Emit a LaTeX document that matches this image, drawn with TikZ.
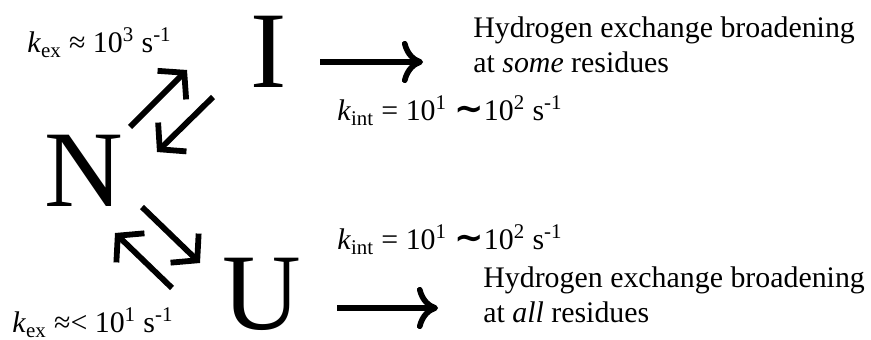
\documentclass[tikz,border=0pt]{standalone}
\usepackage{fontspec}
\setmainfont{Liberation Serif}
\newfontfamily\symfam{DejaVu Sans}
\usetikzlibrary{arrows.meta}
\newcommand{\tld}{{\symfam\bfseries\fontsize{20}{20}\selectfont ∼}}

\begin{document}
\begin{tikzpicture}[x=0.02cm,y=-0.02cm,
  lbl/.style={anchor=base west,inner sep=0pt,font=\fontsize{17}{20}\selectfont},
  big/.style={anchor=base,inner sep=0pt,font=\fontsize{62}{70}\selectfont},
  swap/.style={line width=3.3pt,-{Straight Barb[length=10pt,width=23pt,line width=3.3pt]}},
  goes/.style={line width=3.2pt,-{Computer Modern Rightarrow[length=12pt,width=24pt,line width=3.2pt]}}]
\path[use as bounding box] (0,0) rectangle (871,340);
% states
\node[big] (N) at (84,207) {N};
\node[big] (I) at (269,88) {I};
\node[big] (U) at (262,330) {U};
% rate labels
\node[lbl] (kexI) at (27,53) {\textit{k}\textsubscript{ex} ≈ 10\textsuperscript{3} s\textsuperscript{-1}};
\node[lbl] (kexU) at (12,333) {\textit{k}\textsubscript{ex} ≈< 10\textsuperscript{1} s\textsuperscript{-1}};
\node[lbl] (kintI) at (337,121) {\textit{k}\textsubscript{int} = 10\textsuperscript{1} \tld10\textsuperscript{2} s\textsuperscript{-1}};
\node[lbl] (kintU) at (337,250) {\textit{k}\textsubscript{int} = 10\textsuperscript{1} \tld10\textsuperscript{2} s\textsuperscript{-1}};
% outcomes
\node[lbl] (hxI) at (473,38) {Hydrogen exchange broadening};
\node[lbl] (hxIb) at (473,73) {at \textit{some} residues};
\node[lbl] (hxU) at (483,288) {Hydrogen exchange broadening};
\node[lbl] (hxUb) at (483,323) {at \textit{all} residues};
% arrow ends
\coordinate (a1) at (130,127); \coordinate (a2) at (187,70);
\coordinate (b1) at (213,97);  \coordinate (b2) at (157,152);
\coordinate (c1) at (142,207); \coordinate (c2) at (200,263);
\coordinate (d1) at (172,288); \coordinate (d2) at (115,233);
\coordinate (e1) at (320,62);  \coordinate (e2) at (423,62);
\coordinate (f1) at (337,308); \coordinate (f2) at (438,308);
\draw[swap] (a1) -- (a2);
\draw[swap] (b1) -- (b2);
\draw[swap] (c1) -- (c2);
\draw[swap] (d1) -- (d2);
\draw[goes] (e1) -- (e2);
\draw[goes] (f1) -- (f2);
\end{tikzpicture}
\end{document}
